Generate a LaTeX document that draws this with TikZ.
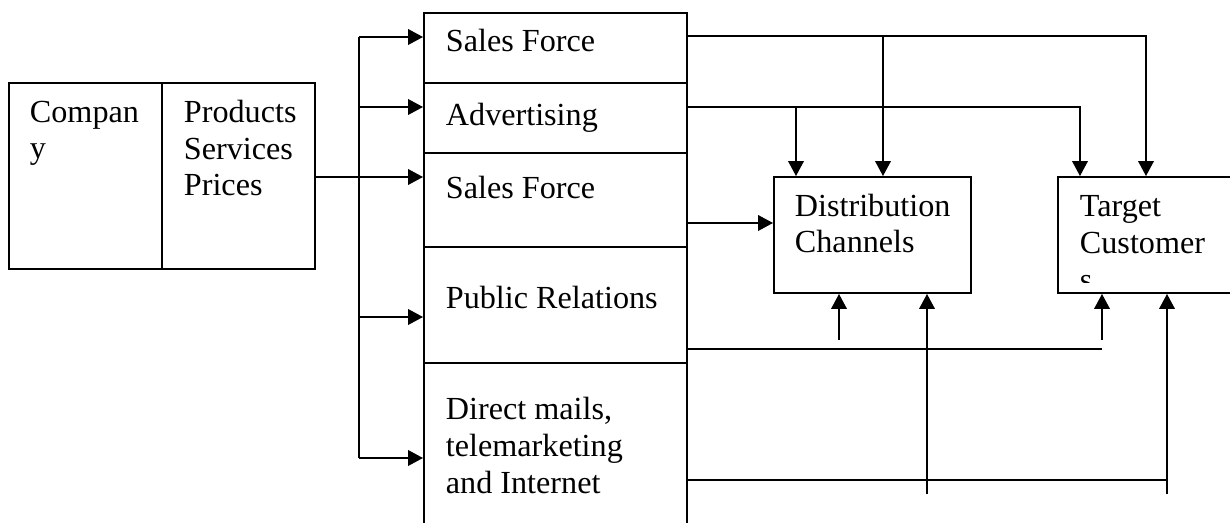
\documentclass[tikz,border=0pt]{standalone}
\usepackage{fontspec}
\setmainfont{Liberation Serif}
\usetikzlibrary{arrows.meta, calc, positioning, fit}

\begin{document}
\begin{tikzpicture}[x=0.373pt, y=-0.373pt, >={Triangle[length=5.6pt, width=5.8pt]}, line width=0.7pt]
	\tikzstyle{cell} = [draw, line width=0.7pt, inner sep=0pt]
	\tikzstyle{txt} = [anchor=base west, inner sep=0pt, align=left, font=\fontsize{12}{13.8}\selectfont]

	\clip (0,0) rectangle (1230,523);

	% company
	\node[cell, fit={(9,83) (162,269)}] (co) {};
	\node[cell, fit={(162,83) (315,269)}] (pp) {};
	\node[txt] (cotxt) at (29,159) {Compan\\y};
	\node[txt] (pptxt) at (183,196) {Products\\Services\\Prices};

	% tools column
	\node[cell, fit={(424,13) (687,83)}] (sf1) {};
	\node[cell, fit={(424,83) (687,153)}] (adv) {};
	\node[cell, fit={(424,153) (687,247)}] (sf2) {};
	\node[cell, fit={(424,247) (687,363)}] (pr) {};
	\node[cell, fit={(424,363) (687,560)}] (dm) {};
	\node[txt] (sf1txt) at (445,52) {Sales Force};
	\node[txt] (advtxt) at (445,126) {Advertising};
	\node[txt] (sf2txt) at (445,199) {Sales Force};
	\node[txt] (prtxt) at (445,309) {Public Relations};
	\node[txt] (dmtxt) at (445,493) {Direct mails,\\telemarketing\\and Internet};

	% targets
	\node[cell, fit={(774,177) (971,293)}] (dc) {};
	\node[cell, fit={(1058,177) (1260,293)}] (tc) {};
	\node[txt] (dctxt) at (794,253) {Distribution\\Channels};
	\begin{scope}
		\clip (tc.north west) rectangle (1230,283);
		\node[txt] (tctxt) at (1079,290) {Target\\Customer\\s};
	\end{scope}

	% feeding the column
	\coordinate (trunk) at (359,177);
	\draw (trunk |- 0,37) -- (trunk |- 0,458);
	\draw[->] (pp.east |- 0,177) -- (sf2.west |- 0,177);
	\foreach \b/\y in {sf1/37, adv/107, pr/317, dm/458}
		\draw[->] (trunk |- 0,\y) -- (\b.west |- 0,\y);

	% from the column to the targets
	\coordinate (j1) at (883,36);
	\coordinate (j2) at (796,107);
	\coordinate (p1) at (1102,349);
	\coordinate (s1) at (839,340);
	\coordinate (s2) at (1102,340);
	\coordinate (d1) at (1167,480);
	\coordinate (v1) at (927,494);
	\coordinate (v2) at (1167,494);

	\draw[->] (sf1.east |- j1) -| (tc.north -| 1146,0);
	\draw[->] (adv.east |- j2) -| (tc.north -| 1080,0);
	\draw[->] (sf2.east |- 0,223) -- (dc.west |- 0,223);
	\draw (pr.east |- p1) -- (p1);
	\draw (dm.east |- d1) -- (d1);

	\path[->]
		(j1) edge (dc.north -| j1)
		(j2) edge (dc.north -| j2)
		(s1) edge (dc.south -| s1)
		(s2) edge (tc.south -| s2)
		(v1) edge (dc.south -| v1)
		(v2) edge (tc.south -| v2)
	;
\end{tikzpicture}
\end{document}
